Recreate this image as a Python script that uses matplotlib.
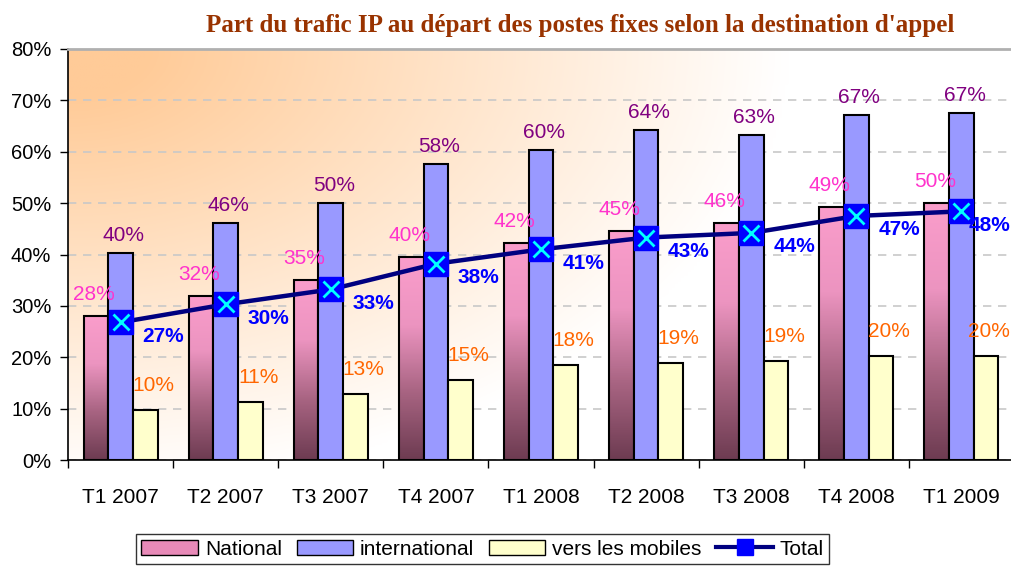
import numpy as np
import matplotlib.pyplot as plt
from matplotlib.patches import Patch
from matplotlib.lines import Line2D
from matplotlib.colors import LinearSegmentedColormap

plt.rcParams['font.family'] = ['Liberation Sans', 'DejaVu Sans']

# Données (en %)
trimestres = ["T1 2007", "T2 2007", "T3 2007", "T4 2007", "T1 2008",
              "T2 2008", "T3 2008", "T4 2008", "T1 2009"]
national = [28.1, 32.0, 35.1, 39.5, 42.2, 44.5, 46.1, 49.2, 50.0]
international = [40.3, 46.1, 50.0, 57.6, 60.4, 64.3, 63.2, 67.1, 67.5]
mobiles = [9.7, 11.3, 12.8, 15.5, 18.4, 18.8, 19.2, 20.3, 20.3]
total = [26.8, 30.3, 33.2, 38.2, 41.0, 43.3, 44.2, 47.5, 48.4]
lbl_national = [28, 32, 35, 40, 42, 45, 46, 49, 50]
lbl_international = [40, 46, 50, 58, 60, 64, 63, 67, 67]
lbl_mobiles = [10, 11, 13, 15, 18, 19, 19, 20, 20]
lbl_total = [27, 30, 33, 38, 41, 43, 44, 47, 48]

fig = plt.figure(figsize=(10.12, 5.69), dpi=100)
ax = fig.add_axes([68 / 1012, 109 / 569, 946 / 1012, 411 / 569])

# fond dégradé orange -> blanc depuis le coin haut gauche
u = np.linspace(0, 1, 300)[None, :]
v = np.linspace(0, 1, 200)[:, None]
d = np.sqrt((u / 0.68) ** 2 + (v / 0.95) ** 2)
f = np.clip(1.12 - d, 0, 1)
orange = np.array([255, 203, 152]) / 255
bg = 1 - f[..., None] * (1 - orange)
ax.imshow(bg, extent=(-0.5, 8.5, 0, 80), aspect='auto', zorder=0, origin='upper')
ax.patch.set_alpha(0)

ax.set_axisbelow(True)
ax.yaxis.grid(True, color='#c8c8c8', linestyle=(0, (5, 4)), linewidth=1.2)
ax.set_yticks(np.arange(0, 81, 10))
ax.set_yticklabels([f"{t}%" for t in range(0, 81, 10)], fontsize=14.5)

x = np.arange(len(trimestres))
w = 0.235
ax.set_xticks(np.arange(-0.5, 9, 1), minor=False)
ax.set_xticklabels([])
ax.set_xticks(x, minor=True)
ax.set_xticklabels(trimestres, minor=True, fontsize=15)
ax.tick_params(axis='x', which='minor', length=0, pad=20)
ax.tick_params(axis='x', which='major', length=6, width=1, direction='out')
ax.tick_params(axis='y', length=6, width=1, direction='out', pad=6)

for s in ['left', 'bottom']:
    ax.spines[s].set_linewidth(1.2)
ax.spines['top'].set_color('#b0b0b0')
ax.spines['top'].set_linewidth(2)
ax.spines['right'].set_visible(False)

# barres
cmap_nat = LinearSegmentedColormap.from_list('nat', ['#6e3c52', '#a86482', '#ec94c0', '#fa9dcb'])
b_nat = ax.bar(x - w, national, w, color='none', edgecolor='black', linewidth=1.5, zorder=3)
grad = np.linspace(0, 1, 100)[:, None]
for rect in b_nat:
    x0, h = rect.get_x(), rect.get_height()
    im = ax.imshow(grad, cmap=cmap_nat, extent=(x0, x0 + w, 0, h), origin='lower',
                   aspect='auto', zorder=2.5)
    im.set_clip_path(rect)
ax.bar(x, international, w, color='#9999ff', edgecolor='black', linewidth=1.5, zorder=3)
ax.bar(x + w, mobiles, w, color='#ffffcc', edgecolor='black', linewidth=1.5, zorder=3)
ax.set_xlim(-0.5, 8.5)
ax.set_ylim(0, 80)

# ligne total
ax.plot(x, total, color='#000080', linewidth=3.2, zorder=4)
ax.plot(x, total, linestyle='none', marker='s', markersize=17, color='#0000ff', zorder=5)
ax.plot(x, total, linestyle='none', marker='x', markersize=11, mew=2, color='#00ffff', zorder=6)

# étiquettes
for i in range(len(x)):
    last = i == len(x) - 1
    ax.annotate(f"{lbl_national[i]}%", (x[i] - w, national[i]), xytext=(-2, 12),
                textcoords='offset pixels', ha='center', va='bottom', fontsize=15, color='#ff33cc', zorder=7)
    ax.annotate(f"{lbl_international[i]}%", (x[i], international[i]), xytext=(3, 8),
                textcoords='offset pixels', ha='center', va='bottom', fontsize=15, color='#800080', zorder=7)
    ax.annotate(f"{lbl_mobiles[i]}%", (x[i] + w, mobiles[i]), xytext=(3 if last else 8, 15),
                textcoords='offset pixels', ha='center', va='bottom', fontsize=15, color='#ff6600', zorder=7)
    ax.annotate(f"{lbl_total[i]}%", (x[i], total[i]), xytext=(7 if last else 22, -14),
                textcoords='offset pixels', ha='left', va='center', fontsize=15, color='#0000ff',
                fontweight='bold', zorder=7)

fig.text(0.573, 0.955, "Part du trafic IP au départ des postes fixes selon la destination d'appel",
         ha='center', va='center', fontsize=18, fontweight='bold', color='#993300',
         family='Liberation Serif')

handles = [Patch(facecolor='#e88ab8', edgecolor='black'),
           Patch(facecolor='#9999ff', edgecolor='black'),
           Patch(facecolor='#ffffcc', edgecolor='black'),
           Line2D([0], [0], color='#000080', linewidth=3, marker='s', markersize=12,
                  markerfacecolor='#0000ff', markeredgecolor='#0000ff')]
leg = fig.legend(handles, ["National", "international", "vers les mobiles", "Total"],
                 loc='center', bbox_to_anchor=(0.477, 0.035), ncol=4, fontsize=15,
                 frameon=True, fancybox=False, edgecolor='black', borderpad=0.25,
                 handlelength=2.7, handletextpad=0.35, columnspacing=0.7)
leg.get_frame().set_linewidth(1.0)

fig.savefig("out.png", dpi=100)
